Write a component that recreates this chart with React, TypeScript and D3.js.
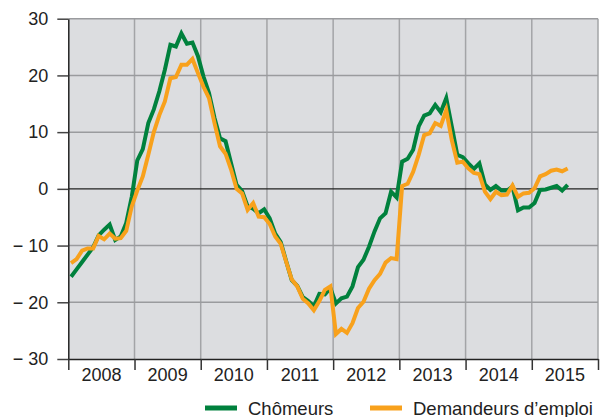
import { useEffect, useRef } from 'react'
import * as d3 from 'd3'

const years = ['2008', '2009', '2010', '2011', '2012', '2013', '2014', '2015']

// monthly values, January 2008 to July 2015
const chomeurs = [
  -15.5, -14.2, -12.9, -11.6, -10.3, -8.2, -7.2, -6.3, -9.0, -8.4, -6.0, -1.4,
  5.0, 7.0, 11.6, 14.0, 17.2, 21.0, 25.4, 25.1, 27.4, 25.6, 25.8, 23.4,
  19.8, 16.9, 12.5, 8.9, 8.4, 4.5, 0.7, -0.4, -3.1, -3.5, -4.3, -3.6,
  -5.2, -7.9, -9.4, -12.8, -16.1, -17.1, -19.1, -19.8, -20.7, -18.5, -18.6, -17.5,
  -20.2, -19.3, -19.0, -17.2, -13.8, -12.5, -10.2, -7.5, -5.2, -4.3, -0.5, -1.5,
  4.8, 5.3, 6.9, 11.0, 12.9, 13.3, 14.8, 13.5, 16.0, 11.0, 6.0, 5.6,
  4.5, 3.5, 4.5, 0.8, -0.2, 0.5, -0.3, -0.3, 0.4, -3.8, -3.3, -3.3,
  -2.5, -0.2, -0.1, 0.2, 0.5, -0.3, 0.7,
]

const demandeurs = [
  -13.1, -12.4, -10.9, -10.5, -10.5, -8.3, -8.9, -7.9, -8.8, -8.7, -7.4, -3.1,
  -0.3, 2.2, 6.0, 10.0, 13.0, 15.4, 19.5, 19.7, 21.9, 21.9, 22.9, 20.4,
  18.0, 16.0, 11.6, 7.5, 6.2, 3.4, 0.0, -0.8, -3.7, -2.5, -4.9, -5.0,
  -6.2, -8.4, -9.7, -12.9, -16.0, -17.2, -19.4, -20.2, -21.4, -19.8, -17.8, -17.2,
  -25.6, -24.7, -25.4, -23.7, -21.0, -19.9, -17.6, -16.1, -15.0, -13.0, -12.2, -12.4,
  0.5, 0.9, 3.0, 6.0, 9.5, 9.8, 11.6, 11.1, 13.9, 8.6, 4.6, 4.8,
  3.6, 2.8, 2.6, -0.5, -1.8, -0.5, -1.1, -1.0, 0.6, -1.4, -0.8, -0.7,
  0.1, 2.2, 2.6, 3.2, 3.4, 3.1, 3.6,
]

const yTicks = [-30, -20, -10, 0, 10, 20, 30]

const series = [
  { name: 'Chômeurs', values: chomeurs, color: '#00813d' },
  { name: 'Demandeurs d’emploi', values: demandeurs, color: '#f8a11c' },
]

export default function App() {
  const ref = useRef<SVGSVGElement | null>(null)

  useEffect(() => {
    if (!ref.current) return
    document.body.style.margin = '0'

    const svg = d3.select(ref.current)
    svg.selectAll('*').remove()

    const width = 602
    const height = 417
    const left = 68.3
    const right = 598
    const top = 18.7
    const bottom = 359
    const font = 'Liberation Sans, Arial, sans-serif'

    const nMonths = years.length * 12
    const x = d3.scaleLinear().domain([0, nMonths]).range([left, right])
    const y = d3.scaleLinear().domain([-30, 30]).range([bottom, top])
    const band = d3.scaleBand().domain(years).range([left, right])

    // plot background
    svg.append('rect')
      .attr('x', left).attr('y', top)
      .attr('width', right - left).attr('height', bottom - top)
      .attr('fill', '#dcdde0')

    // vertical gridlines at year boundaries
    const yearStarts = d3.range(0, nMonths + 1, 12)
    svg.append('g').selectAll('line').data(yearStarts.slice(1)).join('line')
      .attr('x1', d => x(d)).attr('x2', d => x(d))
      .attr('y1', top).attr('y2', bottom)
      .attr('stroke', '#a3a4a7').attr('stroke-width', 1.5)

    // horizontal gridlines
    svg.append('g').selectAll('line').data(yTicks.filter(d => d !== 0 && d !== -30)).join('line')
      .attr('x1', left).attr('x2', right)
      .attr('y1', d => y(d)).attr('y2', d => y(d))
      .attr('stroke', '#9a9b9e').attr('stroke-width', 1.5)

    svg.append('line')
      .attr('x1', left).attr('x2', right)
      .attr('y1', y(0)).attr('y2', y(0))
      .attr('stroke', '#222').attr('stroke-width', 1.2)

    // Y axis
    const yAxis = svg.append('g')
      .attr('transform', `translate(${left},0)`)
      .call(
        d3.axisLeft(y)
          .tickValues(yTicks)
          .tickSize(11)
          .tickSizeOuter(0)
          .tickPadding(9)
          .tickFormat(d => (+d < 0 ? `−\u00a0${Math.abs(+d)}` : `${d}`))
      )
    yAxis.select('.domain').attr('stroke', '#222').attr('stroke-width', 1.5)
    yAxis.selectAll('.tick line').attr('stroke', '#444').attr('stroke-width', 1.5)
    yAxis.selectAll('.tick text')
      .attr('fill', '#222').style('font-size', '18px').style('font-family', font)

    // X axis (year boundaries)
    const xAxis = svg.append('g')
      .attr('transform', `translate(0,${bottom})`)
      .call(d3.axisBottom(x).tickValues(yearStarts).tickSize(11).tickSizeOuter(0).tickFormat(() => ''))
    xAxis.select('.domain').attr('stroke', '#222').attr('stroke-width', 1.5)
    xAxis.selectAll('.tick line').attr('stroke', '#333').attr('stroke-width', 1.5)

    svg.append('g').selectAll('text').data(years).join('text')
      .attr('x', d => band(d)! + band.bandwidth() / 2)
      .attr('y', 380.5)
      .attr('text-anchor', 'middle')
      .attr('fill', '#222')
      .style('font-size', '18px').style('font-family', font)
      .text(d => d)

    // lines
    const line = d3.line<number>()
      .x((_, i) => x(i + 0.5))
      .y(d => y(d))

    series.forEach(s => {
      svg.append('path')
        .datum(s.values)
        .attr('fill', 'none')
        .attr('stroke', s.color)
        .attr('stroke-width', 4)
        .attr('stroke-linejoin', 'miter')
        .attr('d', line)
    })

    // legend
    const legendX = [205, 370]
    series.forEach((s, i) => {
      const g = svg.append('g').attr('transform', `translate(${legendX[i]},408)`)
      g.append('line').attr('x1', 0).attr('x2', 32).attr('y1', 0).attr('y2', 0)
        .attr('stroke', s.color).attr('stroke-width', 5)
      g.append('text').attr('x', 43).attr('y', 6.5)
        .attr('fill', '#222')
        .style('font-size', '18.5px').style('font-family', font)
        .text(s.name)
    })

    svg.attr('width', width).attr('height', height)
  }, [])

  return <svg ref={ref} style={{ display: 'block' }}></svg>
}
